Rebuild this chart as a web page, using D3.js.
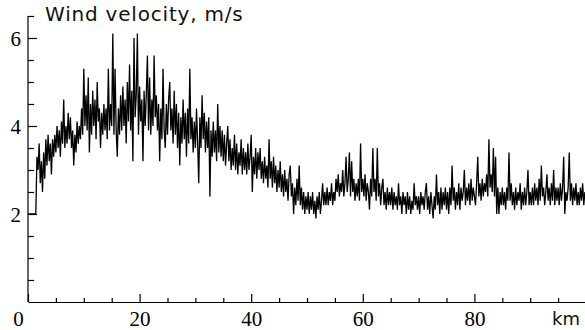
<!DOCTYPE html>
<html>
<head>
<meta charset="utf-8">
<script src="https://cdn.jsdelivr.net/npm/d3@7"></script>
<style>
    body { margin: 0; background: #fff; }
    svg { display: block; }
    .tick text { font-family: 'Liberation Serif', 'Times New Roman', Times, serif; font-size: 21px; fill: #000; }
</style>
</head>
<body>
<div id="viz"></div>
<script>
const vel0to20 = [
    2.0,2.0,2.0,2.0,2.0,2.0,2.0,2.0,3.3,3.0,3.6,2.7,3.2,2.5,3.4,2.8,3.7,3.1,3.8,3.2,3.6,2.9,3.7,3.3,3.8,
    3.4,4.0,3.5,3.9,3.3,4.1,3.6,4.6,3.5,4.0,3.6,4.3,3.7,4.2,3.5,3.9,3.1,3.8,3.4,4.1,3.6,4.0,3.7,4.4,3.8,
    5.3,4.0,4.7,3.9,5.1,3.4,4.5,3.8,4.8,4.0,4.6,3.7,5.0,4.1,4.4,3.5,4.3,3.8,4.5,3.9,4.4,3.7,5.3,3.9,4.5,
    4.0,6.1,3.8,5.3,3.9,3.3,4.4,3.8,4.7,3.9,4.9,4.0,4.6,3.6,5.0,4.1,5.4,3.9,4.8,3.2,6.0,4.2,4.7,6.1,3.8
]
const vel20to40 = [
    4.9,4.1,4.6,3.2,4.8,4.0,4.7,5.6,3.9,5.1,3.8,4.6,4.0,5.6,4.2,4.7,3.9,4.5,3.2,4.4,3.7,5.3,3.9,3.5,4.5,
    3.8,4.6,5.0,3.9,4.4,3.6,4.8,3.8,4.5,3.5,4.3,3.1,4.2,3.6,4.6,3.7,4.3,3.3,4.4,3.6,5.3,3.7,4.2,3.4,4.1,
    3.5,4.4,3.6,2.7,4.2,3.5,4.7,3.7,4.3,3.4,4.1,3.5,4.2,2.4,3.9,3.3,4.1,3.4,3.9,3.2,4.5,3.4,4.0,3.3,3.9,
    3.2,3.8,3.1,3.6,4.0,3.2,3.7,3.0,3.5,3.1,3.8,3.0,3.6,2.9,3.4,3.1,3.7,2.9,3.5,3.0,3.4,2.9,3.6,3.0,3.3
]
const vel40to60 = [
    3.8,2.5,3.3,2.9,3.5,2.8,3.4,3.0,3.5,2.8,3.2,2.7,3.3,2.8,3.1,2.6,3.7,2.8,3.2,2.6,3.3,2.7,3.1,2.5,3.0,
    2.6,3.2,2.5,2.9,2.4,3.0,2.5,2.8,2.3,2.9,3.1,2.4,2.7,2.0,2.6,2.2,2.8,2.3,3.1,2.2,2.6,2.1,2.5,2.0,2.4,
    2.1,2.5,2.0,2.4,2.1,2.5,2.0,2.3,1.9,2.4,2.1,2.5,2.0,2.3,2.7,2.2,2.5,2.2,2.6,2.2,2.5,2.3,2.7,2.2,2.5,
    2.3,2.8,2.5,2.9,2.4,2.7,2.5,3.0,2.4,2.7,3.3,2.5,2.8,3.4,2.4,3.2,2.5,2.8,2.3,2.7,2.4,2.8,2.3,3.6,2.5
]
const vel60to80 = [
    2.8,2.4,2.9,2.3,2.7,2.5,2.1,2.8,2.4,3.5,2.5,2.8,2.3,3.5,2.4,2.7,2.2,2.6,2.8,2.2,2.5,2.1,2.6,2.2,2.5,
    2.2,2.6,2.1,2.5,2.2,2.4,2.1,2.7,2.2,2.4,2.0,2.5,2.2,2.4,2.0,2.5,2.1,2.4,2.0,2.3,2.1,2.7,2.2,2.4,2.1,
    2.4,2.0,2.5,2.2,2.4,2.1,2.5,2.7,2.1,2.4,2.0,2.5,2.2,1.9,2.4,2.1,2.9,2.2,2.5,2.0,2.6,2.1,2.5,2.2,2.6,
    2.1,2.5,2.0,2.6,2.2,3.1,2.3,2.6,2.1,2.5,2.2,2.7,2.1,2.6,2.3,2.5,3.0,2.2,2.6,2.3,2.7,2.2,2.8,2.3,2.6
]
const vel80to100 = [
    2.4,2.2,2.7,3.3,2.4,2.7,2.3,2.8,2.4,2.7,2.5,2.9,2.4,3.7,2.6,2.9,2.5,3.5,2.4,3.3,2.0,2.6,2.0,2.5,2.2,
    2.6,2.2,2.5,2.1,2.6,2.3,3.4,2.3,2.7,2.2,2.5,2.1,2.6,2.2,2.5,2.3,2.7,2.1,2.5,2.2,2.6,2.2,2.5,3.0,2.2,
    2.5,2.2,2.6,2.2,2.7,2.3,2.6,2.2,2.8,2.3,3.1,2.4,2.6,2.2,2.5,2.9,2.3,2.6,2.2,2.7,2.3,3.0,2.2,2.6,2.3,
    2.6,2.2,2.7,2.3,2.6,3.3,2.0,2.5,2.3,2.6,3.4,2.3,2.7,2.2,2.6,2.3,2.7,2.2,2.5,2.2,2.6,2.3,2.7,2.2,2.5
]
const kmStep = 0.2

const xMajor = [0, 20, 40, 60, 80]
const xMinor = [5, 10, 15, 25, 30, 35, 45, 50, 55, 65, 70, 75, 85, 90, 95]
const yMajor = [2, 4, 6]
const yMinor = [0.5, 1, 1.5, 2.5, 3, 3.5, 4.5, 5, 5.5, 6.5]
const title = 'Wind velocity, m/s'
const xUnit = 'km'

const velocity = [].concat(vel0to20, vel20to40, vel40to60, vel60to80, vel80to100)

const w = 585, h = 330

const svg = d3.select('#viz')
    .append('svg')
    .attr('width', w)
    .attr('height', h)
    .attr('viewBox', [0, 0, w, h])
    .style('background', '#fff')

const x = d3.scaleLinear()
    .domain([0, 100])
    .range([28, 586])

const y = d3.scaleLinear()
    .domain([0, 6.5])
    .range([302, 16])

const serif = "'Liberation Serif', 'Times New Roman', Times, serif"
const sans = "'DejaVu Sans', Verdana, sans-serif"

// x axis
const xAxisG = svg.append('g')
    .attr('transform', `translate(0, ${y(0)})`)
    .call(d3.axisBottom(x).tickValues(xMajor).tickSize(-8).tickSizeOuter(0).tickFormat(d3.format('d')))
    .attr('font-family', serif)
xAxisG.append('g')
    .call(d3.axisBottom(x).tickValues(xMinor).tickSize(-4).tickFormat(''))
    .select('.domain').remove()

xAxisG.selectAll('.tick text')
    .attr('y', 24)
    .attr('dy', 0)
    .style('font-family', serif)
xAxisG.selectAll('.tick')
    .filter(d => d === 0)
    .select('text')
    .attr('x', -10)

// y axis
const yAxisG = svg.append('g')
    .attr('transform', `translate(${x(0)}, 0)`)
    .call(d3.axisLeft(y).tickValues(yMajor).tickSize(-9).tickPadding(7).tickSizeOuter(0).tickFormat(d3.format('d')))
    .attr('font-family', serif)
yAxisG.append('g')
    .call(d3.axisLeft(y).tickValues(yMinor).tickSize(-6).tickFormat(''))
    .select('.domain').remove()
yAxisG.select('.domain')
    .attr('d', `M0,${y(6.5)}V${y(0)}`)

yAxisG.selectAll('.tick text')
    .attr('dy', '0.34em')
    .style('font-family', serif)

svg.selectAll('.domain, .tick line')
    .attr('stroke', '#000')
    .attr('stroke-width', 1.2)

// the series
const line = d3.line()
    .x((d, i) => x(i * kmStep))
    .y(d => y(d))

svg.append('path')
    .datum(velocity)
    .attr('fill', 'none')
    .attr('stroke', '#000')
    .attr('stroke-width', 1.3)
    .attr('d', line)

// labels
svg.append('text')
    .attr('x', 45)
    .attr('y', 21)
    .style('font-family', sans)
    .style('font-size', '20px')
    .style('letter-spacing', '0.8px')
    .attr('fill', '#111')
    .text(title)

svg.append('text')
    .attr('x', 566)
    .attr('y', 325)
    .attr('text-anchor', 'middle')
    .style('font-family', sans)
    .style('font-size', '18px')
    .attr('fill', '#111')
    .text(xUnit)
</script>
</body>
</html>
